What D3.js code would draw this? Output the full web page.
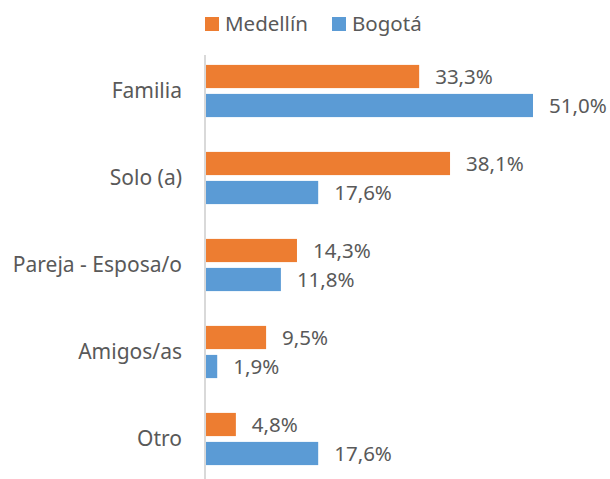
<!DOCTYPE html>
<html>
<head>
<meta charset="utf-8">
<script src="https://cdn.jsdelivr.net/npm/d3@7"></script>
<style>
  body { margin: 0; background: #fff; }
  text { font-family: "Noto Sans", "Open Sans", sans-serif; fill: #595959; }
</style>
</head>
<body>
<div id="chart"></div>
<script>
const categories = ["Familia", "Solo (a)", "Pareja - Esposa/o", "Amigos/as", "Otro"];
const series = ["Medellín", "Bogotá"];
const medellin = [33.3, 38.1, 14.3, 9.5, 4.8];
const bogota = [51.0, 17.6, 11.8, 1.9, 17.6];

const colors = { "Medellín": "#ED7D31", "Bogotá": "#5B9BD5" };
const width = 610, height = 479;
const fmt = v => v.toFixed(1).replace(".", ",") + "%";

const rows = categories.map((c, i) => ({
    cat: c,
    values: [
        { key: "Medellín", value: medellin[i] },
        { key: "Bogotá", value: bogota[i] }
    ]
}));

const svg = d3.select("#chart")
    .append("svg")
        .attr("width", width)
        .attr("height", height);

const x = d3.scaleLinear()
    .domain([0, 51])
    .range([205, 533]);

const y = d3.scaleBand()
    .domain(categories)
    .range([47.5, 482.5])
    .paddingInner(0.4)
    .paddingOuter(0.2);

const ySub = d3.scaleBand()
    .domain(series)
    .range([0, y.bandwidth()])
    .paddingInner(0.2);

// axis line
svg.append("line")
    .attr("x1", x(0)).attr("x2", x(0))
    .attr("y1", 55).attr("y2", height)
    .attr("stroke", "#d9d9d9")
    .attr("stroke-width", 2);

const group = svg.selectAll(".cat")
    .data(rows)
    .enter()
    .append("g")
        .attr("class", "cat")
        .attr("transform", d => `translate(0,${y(d.cat)})`);

group.selectAll("rect")
    .data(d => d.values)
    .enter()
    .append("rect")
        .attr("x", x(0) + 1)
        .attr("y", d => ySub(d.key))
        .attr("width", d => x(d.value) - x(0) - 1)
        .attr("height", ySub.bandwidth())
        .attr("fill", d => colors[d.key]);

group.selectAll(".val")
    .data(d => d.values)
    .enter()
    .append("text")
        .attr("class", "val")
        .attr("x", d => x(d.value) + 16)
        .attr("y", d => ySub(d.key) + ySub.bandwidth() / 2)
        .attr("dy", "0.35em")
        .style("font-size", "20.5px")
        .text(d => fmt(d.value));

// category labels
svg.selectAll(".catlabel")
    .data(categories)
    .enter()
    .append("text")
        .attr("class", "catlabel")
        .attr("x", 182)
        .attr("y", d => y(d) + y.bandwidth() / 2)
        .attr("dy", "0.35em")
        .attr("text-anchor", "end")
        .style("font-size", "21px")
        .text(d => d);

// legend
const legend = svg.append("g");
const legendX = [205, 332];
series.forEach((s, i) => {
    legend.append("rect")
        .attr("x", legendX[i])
        .attr("y", 17)
        .attr("width", 14)
        .attr("height", 14)
        .attr("fill", colors[s]);
    legend.append("text")
        .attr("x", legendX[i] + 20)
        .attr("y", 24)
        .attr("dy", "0.35em")
        .style("font-size", "20.5px")
        .text(s);
});
</script>
</body>
</html>
